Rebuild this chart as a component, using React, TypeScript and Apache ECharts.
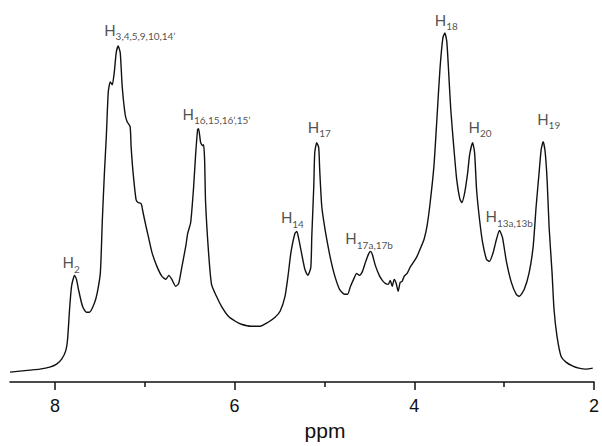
import React, { useEffect, useRef } from "react";
import * as echarts from "echarts";

const ppm = [
  8.5, 8.39, 8.279, 8.169, 8.058, 7.981, 7.925, 7.881, 7.859, 7.837,
  7.815, 7.782, 7.76, 7.738, 7.693, 7.649, 7.616, 7.561, 7.528, 7.494,
  7.472, 7.45, 7.428, 7.406, 7.384, 7.362, 7.34, 7.318, 7.296, 7.273,
  7.251, 7.218, 7.196, 7.163, 7.152, 7.13, 7.097, 7.075, 7.041, 7.019,
  6.986, 6.953, 6.92, 6.865, 6.809, 6.765, 6.732, 6.699, 6.655, 6.622,
  6.588, 6.544, 6.522, 6.489, 6.456, 6.434, 6.412, 6.401, 6.378, 6.356,
  6.345, 6.334, 6.323, 6.29, 6.257, 6.202, 6.146, 6.069, 5.992, 5.925,
  5.815, 5.715, 5.627, 5.55, 5.494, 5.439, 5.406, 5.373, 5.329, 5.307,
  5.285, 5.263, 5.218, 5.185, 5.152, 5.141, 5.119, 5.108, 5.086, 5.064,
  5.053, 5.03, 4.997, 4.964, 4.931, 4.887, 4.832, 4.776, 4.743, 4.71,
  4.666, 4.644, 4.611, 4.577, 4.544, 4.511, 4.489, 4.467, 4.434, 4.39,
  4.356, 4.323, 4.29, 4.268, 4.246, 4.224, 4.202, 4.18, 4.157, 4.135,
  4.113, 4.08, 4.047, 4.003, 3.97, 3.937, 3.892, 3.859, 3.826, 3.782,
  3.749, 3.715, 3.682, 3.66, 3.638, 3.616, 3.594, 3.561, 3.528, 3.494,
  3.472, 3.439, 3.406, 3.384, 3.351, 3.329, 3.307, 3.274, 3.24, 3.196,
  3.163, 3.119, 3.086, 3.052, 3.019, 2.975, 2.92, 2.865, 2.831, 2.776,
  2.721, 2.677, 2.644, 2.611, 2.588, 2.566, 2.544, 2.522, 2.5, 2.467,
  2.445, 2.412, 2.367, 2.312, 2.235, 2.169, 2.091, 2.014,
];

const intensity = [
  10, 11, 12, 13, 15, 18, 23, 31, 43, 73,
  96, 107, 103, 93, 76, 70, 70, 79, 90, 110,
  163, 208, 246, 291, 301, 298, 310, 330, 337, 330,
  296, 268, 261, 256, 236, 210, 183, 180, 179, 170,
  156, 143, 130, 116, 106, 103, 107, 103, 96, 99,
  115, 136, 149, 160, 196, 228, 253, 254, 240, 237,
  238, 223, 180, 130, 98, 86, 76, 66, 61, 58,
  56, 56, 60, 65, 71, 86, 106, 130, 149, 151,
  143, 133, 113, 107, 115, 146, 196, 230, 240, 235,
  213, 176, 155, 138, 123, 107, 93, 88, 88, 96,
  105, 109, 107, 111, 120, 128, 131, 128, 117, 107,
  102, 99, 98, 102, 96, 103, 99, 91, 100, 101,
  106, 109, 115, 121, 126, 133, 143, 156, 178, 216,
  263, 313, 345, 350, 341, 308, 273, 236, 203, 184,
  180, 190, 210, 228, 240, 230, 193, 163, 140, 123,
  121, 131, 143, 152, 145, 121, 100, 88, 86, 93,
  110, 136, 176, 210, 233, 241, 231, 203, 156, 110,
  73, 46, 26, 20, 16, 14, 13, 14,
];

const majorTicks = [2, 4, 6, 8];
const minorTicks = [3, 5, 7];

const peakNames = ["2", "3,4,5,9,10,14\u2019", "16,15,16\u2019,15\u2019", "14", "17", "17a,17b", "18", "20", "13a,13b", "19"];
const peakPpm = [7.782, 7.296, 6.401, 5.307, 5.086, 4.489, 3.66, 3.351, 3.052, 2.566];
const peakIntensity = [107, 337, 254, 151, 240, 131, 350, 240, 152, 241];

// label placement offsets (pixels) relative to each peak top
const labelDx = [-12, -14, -16, -16, -9, -25, -10, -4, -14, -6];
const labelDy = [-4, -7, -6, -5, -7, -4, -4, -7, -5, -14];

export default function App() {
  const ref = useRef<HTMLDivElement>(null);
  useEffect(() => {
    document.body.style.margin = "0";
    const chart = echarts.init(ref.current!, null, { renderer: "svg" });
    const n = Math.min(ppm.length, intensity.length);
    const lineData: number[][] = [];
    for (let i = 0; i < n; i++) lineData.push([ppm[i], intensity[i]]);
    const peakData = peakPpm.map((p, i) => ({
      value: [p, peakIntensity[i]],
      label: {
        formatter: `{h|H}{s|${peakNames[i]}}`,
        offset: [labelDx[i], labelDy[i]],
      },
    }));
    const axisColor = "#111";
    chart.setOption({
      animation: false,
      backgroundColor: "#ffffff",
      grid: { left: 10, right: 4, top: 10, bottom: 63 },
      xAxis: [
        {
          type: "value",
          inverse: true,
          min: 2,
          max: 8.5,
          interval: 2,
          name: "ppm",
          nameLocation: "middle",
          nameGap: 37,
          nameTextStyle: {
            fontSize: 21,
            color: "#111",
            fontFamily: "Liberation Sans",
            padding: [0, 0, 0, 46],
          },
          axisLine: { show: true, onZero: false, lineStyle: { color: axisColor, width: 1.5 } },
          axisTick: {
            show: true,
            length: 8,
            customValues: majorTicks,
            lineStyle: { color: axisColor, width: 1.5 },
          },
          axisLabel: {
            customValues: majorTicks,
            margin: 15,
            fontSize: 18,
            color: "#111",
            fontFamily: "Liberation Sans",
          },
          splitLine: { show: false },
        },
        {
          type: "value",
          inverse: true,
          min: 2,
          max: 8.5,
          interval: 1,
          position: "bottom",
          axisLine: { show: false, onZero: false },
          axisTick: {
            show: true,
            length: 5,
            customValues: minorTicks,
            lineStyle: { color: axisColor, width: 1.5 },
          },
          axisLabel: { show: false },
          splitLine: { show: false },
        },
      ],
      yAxis: { type: "value", min: 0, max: 373, show: false },
      series: [
        {
          type: "line",
          xAxisIndex: 0,
          data: lineData,
          symbol: "none",
          showSymbol: false,
          smooth: 0.2,
          lineStyle: { color: "#111", width: 1.4 },
          silent: true,
        },
        {
          type: "scatter",
          xAxisIndex: 0,
          data: peakData,
          symbolSize: 1,
          itemStyle: { color: "rgba(0,0,0,0)" },
          silent: true,
          label: {
            show: true,
            position: "top",
            distance: 0,
            align: "left",
            verticalAlign: "bottom",
            color: "#222",
            rich: {
              h: { fontSize: 15, lineHeight: 16, fontFamily: "Lato", color: "#222", verticalAlign: "top" },
              s: {
                fontSize: 10,
                lineHeight: 10,
                fontFamily: "Lato",
                color: "#222",
                verticalAlign: "top",
                padding: [9, 0, 0, 0],
              },
            },
          },
        },
      ],
    });
    return () => chart.dispose();
  }, []);
  return <div ref={ref} style={{ position: "fixed", left: 0, top: 0, width: 602, height: 446 }} />;
}
